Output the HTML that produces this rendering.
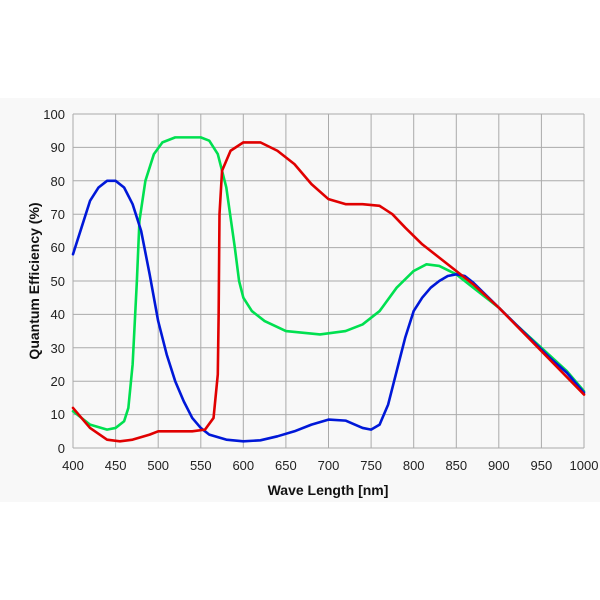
<!DOCTYPE html>
<html><head><style>
body{margin:0;background:#fff;}
svg{display:block;font-family:"Liberation Sans",sans-serif;}
</style></head><body>
<svg width="600" height="600" viewBox="0 0 600 600">
<rect x="0" y="98" width="600" height="404" fill="#f8f8f8"/>
<g stroke="#aaa" stroke-width="1">
<line x1="73" y1="114" x2="584" y2="114"/><line x1="73" y1="147.4" x2="584" y2="147.4"/><line x1="73" y1="180.8" x2="584" y2="180.8"/><line x1="73" y1="214.2" x2="584" y2="214.2"/><line x1="73" y1="247.6" x2="584" y2="247.6"/><line x1="73" y1="281" x2="584" y2="281"/><line x1="73" y1="314.4" x2="584" y2="314.4"/><line x1="73" y1="347.8" x2="584" y2="347.8"/><line x1="73" y1="381.2" x2="584" y2="381.2"/><line x1="73" y1="414.6" x2="584" y2="414.6"/><line x1="73" y1="448" x2="584" y2="448"/>
<line x1="73" y1="114" x2="73" y2="448"/><line x1="115.6" y1="114" x2="115.6" y2="448"/><line x1="158.2" y1="114" x2="158.2" y2="448"/><line x1="200.8" y1="114" x2="200.8" y2="448"/><line x1="243.3" y1="114" x2="243.3" y2="448"/><line x1="285.9" y1="114" x2="285.9" y2="448"/><line x1="328.5" y1="114" x2="328.5" y2="448"/><line x1="371.1" y1="114" x2="371.1" y2="448"/><line x1="413.7" y1="114" x2="413.7" y2="448"/><line x1="456.3" y1="114" x2="456.3" y2="448"/><line x1="498.8" y1="114" x2="498.8" y2="448"/><line x1="541.4" y1="114" x2="541.4" y2="448"/><line x1="584" y1="114" x2="584" y2="448"/>
</g>
<g font-size="13" fill="#222" text-anchor="end">
<text x="65" y="119">100</text><text x="65" y="152">90</text><text x="65" y="186">80</text><text x="65" y="219">70</text><text x="65" y="252">60</text><text x="65" y="286">50</text><text x="65" y="319">40</text><text x="65" y="353">30</text><text x="65" y="386">20</text><text x="65" y="419">10</text><text x="65" y="453">0</text>
</g>
<g font-size="13" fill="#222" text-anchor="middle">
<text x="73" y="470">400</text><text x="115.6" y="470">450</text><text x="158.2" y="470">500</text><text x="200.8" y="470">550</text><text x="243.3" y="470">600</text><text x="285.9" y="470">650</text><text x="328.5" y="470">700</text><text x="371.1" y="470">750</text><text x="413.7" y="470">800</text><text x="456.3" y="470">850</text><text x="498.8" y="470">900</text><text x="541.4" y="470">950</text><text x="584" y="470">1000</text>
</g>
<text x="328" y="495" font-size="14" font-weight="bold" text-anchor="middle" fill="#111">Wave Length [nm]</text>
<text transform="translate(39,281) rotate(-90)" font-size="14" font-weight="bold" text-anchor="middle" fill="#111">Quantum Efficiency (%)</text>
<g transform="translate(73,448) scale(0.8517,-3.34) translate(-400,0)" fill="none" stroke-width="2.6" stroke-linejoin="round" stroke-linecap="round">
<polyline vector-effect="non-scaling-stroke" stroke="#00e050" points="400,11 420,7 440,5.5 450,6 460,8 465,12 470,25 475,50 478,68 485,80 495,88 505,91.5 520,93 550,93 560,92 570,88 580,78 590,60 595,50 600,45 610,41 625,38 650,35 690,34 720,35 740,37 760,41 780,48 800,53 815,55 830,54.5 850,52 870,48 900,42 920,37 950,30 980,23 1000,17"/>
<polyline vector-effect="non-scaling-stroke" stroke="#0018d8" points="400,58 410,66 420,74 430,78 440,80 450,80 460,78 470,73 480,65 490,52 500,38 510,28 520,20 530,14 540,9 550,6 560,4 580,2.5 600,2 620,2.3 640,3.5 660,5 680,7 700,8.5 720,8.2 740,6 750,5.5 760,7 770,13 780,23 790,33 800,41 810,45 820,48 830,50 840,51.5 850,52 860,51.5 870,49.5 880,47 900,42 920,37 940,32 960,27 980,22.5 1000,16.5"/>
<polyline vector-effect="non-scaling-stroke" stroke="#e00000" points="400,12 420,6 440,2.5 455,2 470,2.5 490,4 500,5 520,5 540,5 555,5.5 565,9 570,22 571,40 572,70 575,83 585,89 600,91.5 620,91.5 640,89 660,85 680,79 700,74.5 720,73 740,73 760,72.5 775,70 790,66 810,61 830,57 850,53 870,49 900,42 950,29 1000,16"/>
</g>
</svg>
</body></html>
